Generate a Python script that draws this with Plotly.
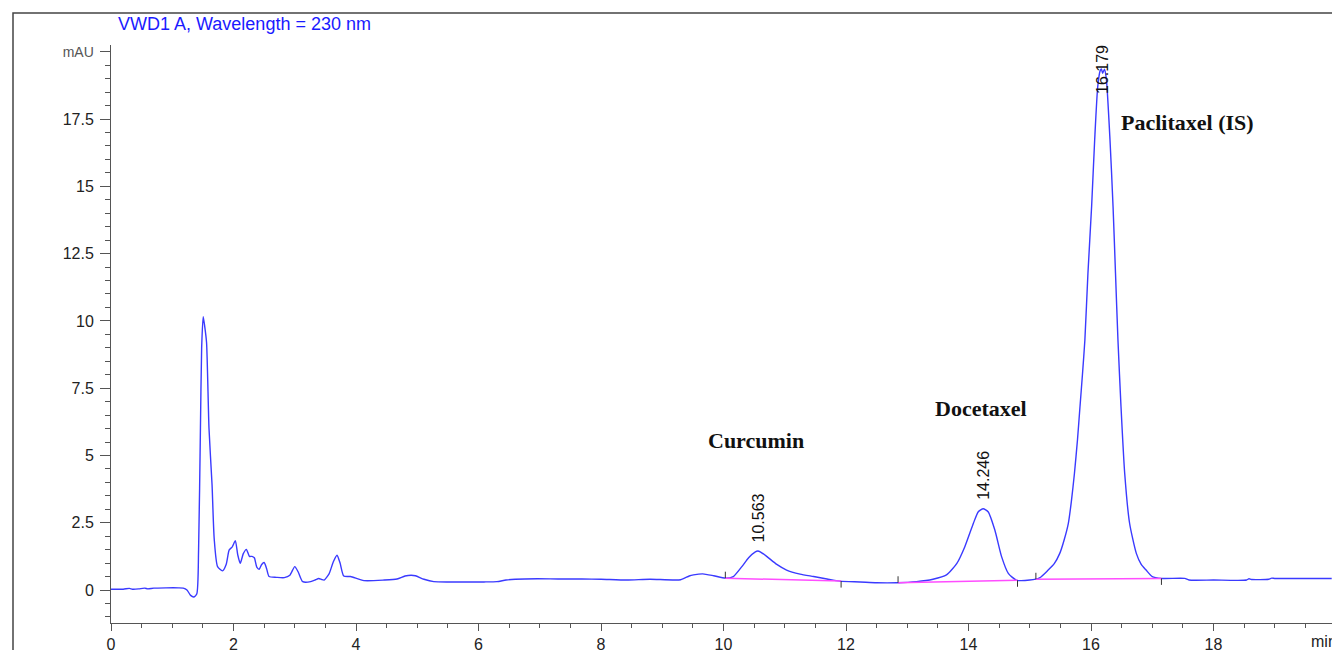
import plotly.graph_objects as go

# ---- data ----
time_min = [0.0, 0.2, 0.3, 0.35, 0.45, 0.55, 0.6, 0.7, 0.9, 1.1, 1.18, 1.24, 1.3, 1.35, 1.4, 1.43,
            1.46, 1.48, 1.505, 1.53, 1.56, 1.6, 1.65, 1.685, 1.74, 1.82, 1.88, 1.93, 1.98, 2.03,
            2.07, 2.11, 2.16, 2.21, 2.26, 2.3, 2.34, 2.38, 2.42, 2.46, 2.5, 2.54, 2.58, 2.7, 2.83,
            2.92, 3.0, 3.06, 3.13, 3.26, 3.34, 3.39, 3.44, 3.48, 3.56, 3.63, 3.69, 3.74, 3.8, 3.91,
            4.13, 4.46, 4.67, 4.8, 4.9, 4.97, 5.11, 5.27, 5.6, 6.09, 6.3, 6.45, 6.6, 6.96, 7.3,
            7.69, 8.0, 8.42, 8.8, 9.3, 9.44, 9.51, 9.66, 9.84, 10.03, 10.16, 10.3, 10.41, 10.52,
            10.56, 10.6, 10.71, 10.87, 11.03, 11.25, 11.47, 11.69, 11.9, 12.23, 12.5, 12.83,
            13.15, 13.42, 13.64, 13.81, 13.94, 14.08, 14.16, 14.24, 14.32, 14.43, 14.54, 14.65,
            14.78, 15.0, 15.16, 15.3, 15.4, 15.49, 15.56, 15.63, 15.68, 15.73, 15.78, 15.82,
            15.86, 15.9, 15.95, 16.01, 16.06, 16.11, 16.15, 16.17, 16.19, 16.22, 16.25, 16.31,
            16.36, 16.4, 16.44, 16.49, 16.55, 16.63, 16.74, 16.82, 16.9, 17.0, 17.15, 17.53,
            17.6, 18.0, 18.54, 18.58, 18.62, 18.9, 18.95, 19.0, 19.93]
signal_mAU = [0.03, 0.03, 0.06, 0.03, 0.04, 0.07, 0.04, 0.07, 0.08, 0.08, 0.07, 0.0, -0.2, -0.26,
              -0.15, 1.5, 6.0, 9.0, 10.16, 9.8, 9.2, 6.0, 3.9, 1.9, 0.87, 0.71, 0.95, 1.49, 1.6,
              1.83, 1.3, 0.99, 1.35, 1.51, 1.25, 1.25, 1.2, 0.85, 0.77, 0.95, 1.02, 0.8, 0.5,
              0.47, 0.46, 0.55, 0.87, 0.65, 0.31, 0.31, 0.38, 0.43, 0.39, 0.37, 0.6, 1.05, 1.29,
              1.0, 0.52, 0.5, 0.35, 0.37, 0.41, 0.52, 0.55, 0.53, 0.4, 0.31, 0.3, 0.3, 0.31,
              0.37, 0.4, 0.42, 0.41, 0.41, 0.4, 0.37, 0.4, 0.38, 0.52, 0.56, 0.6, 0.53, 0.44,
              0.5, 0.87, 1.2, 1.42, 1.45, 1.42, 1.24, 0.95, 0.74, 0.59, 0.5, 0.41, 0.33, 0.3,
              0.27, 0.27, 0.31, 0.4, 0.56, 0.99, 1.61, 2.48, 2.91, 3.02, 2.91, 2.23, 1.24, 0.62,
              0.37, 0.37, 0.45, 0.74, 0.98, 1.36, 1.85, 2.48, 3.3, 4.34, 5.6, 6.81, 8.0, 9.29,
              11.77, 14.25, 16.73, 18.71, 19.3, 19.36, 19.2, 19.35, 19.0, 16.73, 14.25, 11.77,
              9.29, 6.81, 4.34, 2.48, 1.36, 0.95, 0.74, 0.5, 0.43, 0.43, 0.37, 0.37, 0.37, 0.42,
              0.39, 0.4, 0.44, 0.43, 0.43]

# integration baselines (start, end)
base_start_t = [10.03, 12.85, 15.10]
base_end_t = [11.92, 14.80, 17.15]
base_start_y = [0.44, 0.27, 0.40]
base_end_y = [0.33, 0.36, 0.43]

# retention-time labels
rt_labels = ["10.563", "14.246", "16.179"]
rt_t = [10.563, 14.246, 16.179]
rt_y = [1.45, 3.02, 19.36]

compound_names = ["Curcumin", "Docetaxel", "Paclitaxel (IS)"]
compound_t = [10.53, 14.20, 17.57]
compound_y = [5.57, 6.76, 17.39]

y_tickvals = [0, 2.5, 5, 7.5, 10, 12.5, 15, 17.5, 20]
y_ticktext = ["0", "2.5", "5", "7.5", "10", "12.5", "15", "17.5",
              "<span style='font-size:14px;color:#555'>mAU</span>"]
x_tickvals = [0, 2, 4, 6, 8, 10, 12, 14, 16, 18]

BLUE = "#3a3aff"
MAGENTA = "#ff4dff"
AX = "#555555"
FONT = "Liberation Sans, Arial, sans-serif"

W, H = 1332, 650
L, R, T, B = 111, 0, 45, 27
pw, ph = W - L - R, H - T - B


def px_x(p):
    return (p - L) / pw


def px_y(p):
    return (H - B - p) / ph


fig = go.Figure()

fig.add_trace(go.Scatter(x=time_min, y=signal_mAU, mode="lines", line_shape="spline",
                         line=dict(color=BLUE, width=1.4, smoothing=0.6), hoverinfo="skip"))

# baselines
bx, by = [], []
for t0, t1, y0, y1 in zip(base_start_t, base_end_t, base_start_y, base_end_y):
    bx += [t0, t1, None]
    by += [y0, y1, None]
fig.add_trace(go.Scatter(x=bx, y=by, mode="lines",
                         line=dict(color=MAGENTA, width=1.5), hoverinfo="skip"))

# start/end tick marks
tx, ty = [], []
for t0, t1, y0, y1 in zip(base_start_t, base_end_t, base_start_y, base_end_y):
    tx += [t0, t0, None, t1, t1, None]
    ty += [y0, y0 + 0.24, None, y1, y1 - 0.24, None]
fig.add_trace(go.Scatter(x=tx, y=ty, mode="lines",
                         line=dict(color="#333333", width=1), hoverinfo="skip"))

# retention time labels
for lab, t, y in zip(rt_labels, rt_t, rt_y):
    top = y > 15
    fig.add_annotation(x=t, y=y, xref="x", yref="y", text=lab, showarrow=False,
                       textangle=-90, font=dict(family=FONT, size=16, color="#111"),
                       xanchor="center", yanchor="middle" if top else "bottom",
                       yshift=0 if top else 7)

for name, t, y in zip(compound_names, compound_t, compound_y):
    fig.add_annotation(x=t, y=y, xref="x", yref="y", text="<b>" + name + "</b>",
                       showarrow=False,
                       font=dict(family="Liberation Serif, Times New Roman, serif", size=22,
                                 color="#111"),
                       xanchor="center", yanchor="middle")

# title and unit
fig.add_annotation(x=px_x(116), y=px_y(24), xref="paper", yref="paper",
                   text="VWD1 A, Wavelength = 230 nm",
                   showarrow=False, font=dict(family=FONT, size=18, color="#1a1aff"),
                   xanchor="left", yanchor="middle")

fig.add_annotation(x=px_x(1309), y=px_y(641), xref="paper", yref="paper", text="min",
                   showarrow=False, font=dict(family=FONT, size=16, color="#222"),
                   xanchor="left", yanchor="middle")

# outer frame
fig.add_shape(type="rect", xref="paper", yref="paper",
              x0=px_x(13), x1=px_x(1340), y0=px_y(660), y1=px_y(13),
              line=dict(color="#444", width=1.5), layer="above")

fig.update_layout(
    width=W, height=H,
    margin=dict(l=L, r=R, t=T, b=B, autoexpand=False),
    paper_bgcolor="white", plot_bgcolor="white",
    showlegend=False,
    xaxis=dict(range=[0, pw / 61.25], tickvals=x_tickvals, showgrid=False, zeroline=False,
               automargin=False,
               showline=True, linecolor=AX, linewidth=1, ticks="outside", ticklen=7,
               tickcolor=AX, tickwidth=1,
               tickfont=dict(family=FONT, size=16, color="#222"),
               minor=dict(dtick=0.5, ticklen=4, tickcolor=AX, ticks="outside")),
    yaxis=dict(range=[-33 / 26.91, 545 / 26.91], tickvals=y_tickvals, ticktext=y_ticktext,
               automargin=False,
               showgrid=False, zeroline=False, showline=True, linecolor=AX, linewidth=1,
               ticks="outside", ticklen=10, tickcolor=AX, tickwidth=1, ticklabelstandoff=3,
               tickfont=dict(family=FONT, size=16, color="#222"),
               minor=dict(dtick=0.5, ticklen=5, tickcolor=AX, ticks="outside")),
)

fig.write_html("out.html", config={"displayModeBar": False},
               post_script="document.body.style.margin='0';document.body.style.overflow='hidden';")
